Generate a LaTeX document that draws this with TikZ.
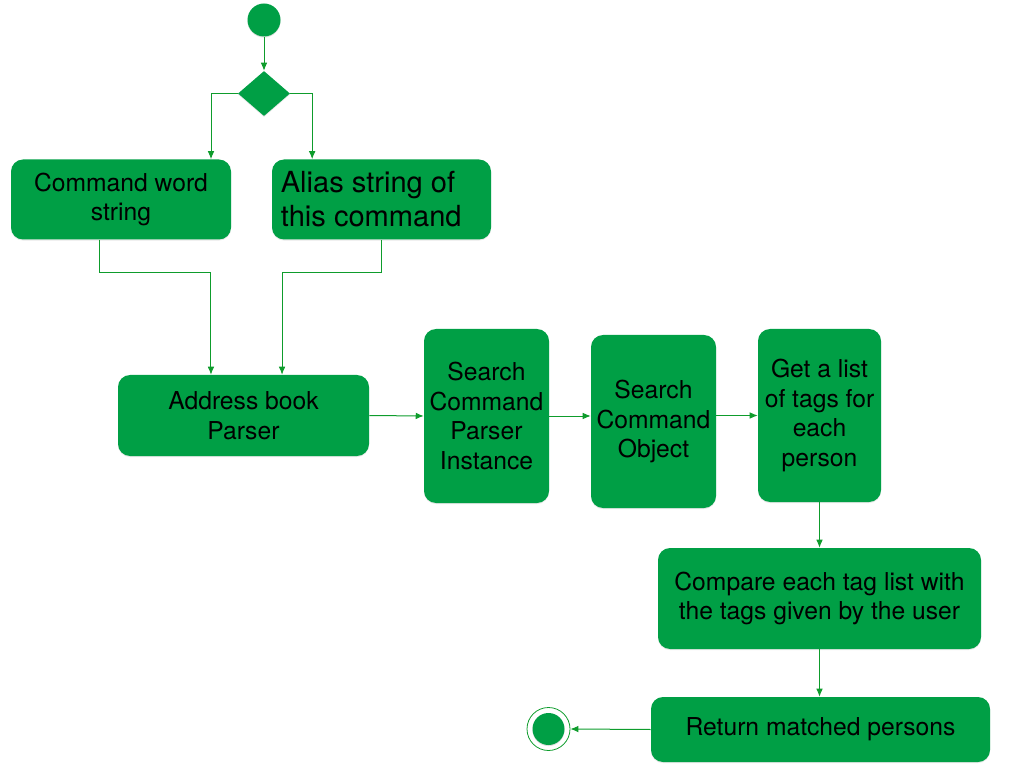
\documentclass[tikz,border=0pt]{standalone}
\usepackage{fontspec}
\setmainfont{TeX Gyre Heros}
\usetikzlibrary{arrows.meta,shapes.geometric,shadows}
\definecolor{boxgreen}{RGB}{0,159,69}
\definecolor{linegreen}{RGB}{14,156,44}
\begin{document}
\begin{tikzpicture}[x=0.75pt,y=-0.75pt,
  box/.style={rectangle, rounded corners=9pt, fill=boxgreen, inner sep=0pt,
    align=center, font=\fontsize{18.5}{22.2}\selectfont,
    drop shadow={opacity=0.18, shadow xshift=0pt, shadow yshift=-0.8pt}},
  arr/.style={draw=linegreen, line width=0.75pt, -{Latex[length=6pt,width=5pt]}},
  dot/.style={circle, fill=boxgreen, inner sep=0pt,
    drop shadow={opacity=0.25, shadow xshift=0pt, shadow yshift=-0.8pt}}]
\useasboundingbox (0,0) rectangle (1024,773);

% start and branch
\node[dot, minimum size=24.75pt] (start) at (264,20) {};
\node[diamond, fill=boxgreen, inner sep=0pt, minimum width=39pt, minimum height=33.75pt,
  drop shadow={opacity=0.2, shadow xshift=0pt, shadow yshift=-0.8pt}] (dec) at (264,93.5) {};

% activities
\node[box, minimum width=165pt, minimum height=60pt] (b1) at (121,199.5) {Command word\\string};
\node[box, minimum width=164.25pt, minimum height=60pt, align=left,
  font=\fontsize{21.8}{25.5}\selectfont] (b2) at (381.5,199.5)
  {\makebox[151pt][l]{Alias string of}\\\makebox[151pt][l]{this command}};
\node[box, minimum width=188.25pt, minimum height=60.75pt] (b3) at (243.5,415.5) {Address book\\Parser};
\node[box, minimum width=93.75pt, minimum height=130.5pt] (b4) at (486.5,416) {Search\\Command\\Parser\\Instance};
\node[box, minimum width=93.75pt, minimum height=129.75pt] (b5) at (653.5,421.5) {Search\\Command\\Object};
\node[box, minimum width=92.25pt, minimum height=129.75pt] (b6) at (819.5,415.5) {Get a list\\of tags for\\each\\person};
\node[box, minimum width=242.25pt, minimum height=75.75pt] (b7) at (819.5,598.5) {Compare each tag list with\\the tags given by the user};
\node[box, minimum width=254.25pt, minimum height=48.75pt] (b8) at (820.5,729.5) {Return matched persons};

% end node
\node[circle, draw=linegreen, line width=0.6pt, minimum size=32.25pt, inner sep=0pt] (end) at (548.5,729) {};
\node[dot, minimum size=24pt] (endin) at (end.center) {};

% connectors
\draw[arr] (start) -- (dec);
\draw[arr] (dec.west) -| ([xshift=67.5pt]b1.north);
\draw[arr] (dec.east) -| ([xshift=-52pt]b2.north);
\draw[arr] ([xshift=-16.5pt]b1.south) -- ++(0,33) -| ([xshift=-24.4pt]b3.north);
\draw[arr] (b2.south) -- ++(0,33) -| ([xshift=28.9pt]b3.north);
\draw[arr] (b3.east) -- (b4.west);
\draw[arr] (b4.east) -- (b4.east -| b5.west);
\draw[arr] (b6.west -| b5.east) -- (b6.west);
\draw[arr] (b6.south) -- (b7.north);
\draw[arr] (b7.south) -- (b7.south |- b8.north);
\draw[arr] (b8.west) -- (end.east);
\end{tikzpicture}
\end{document}
